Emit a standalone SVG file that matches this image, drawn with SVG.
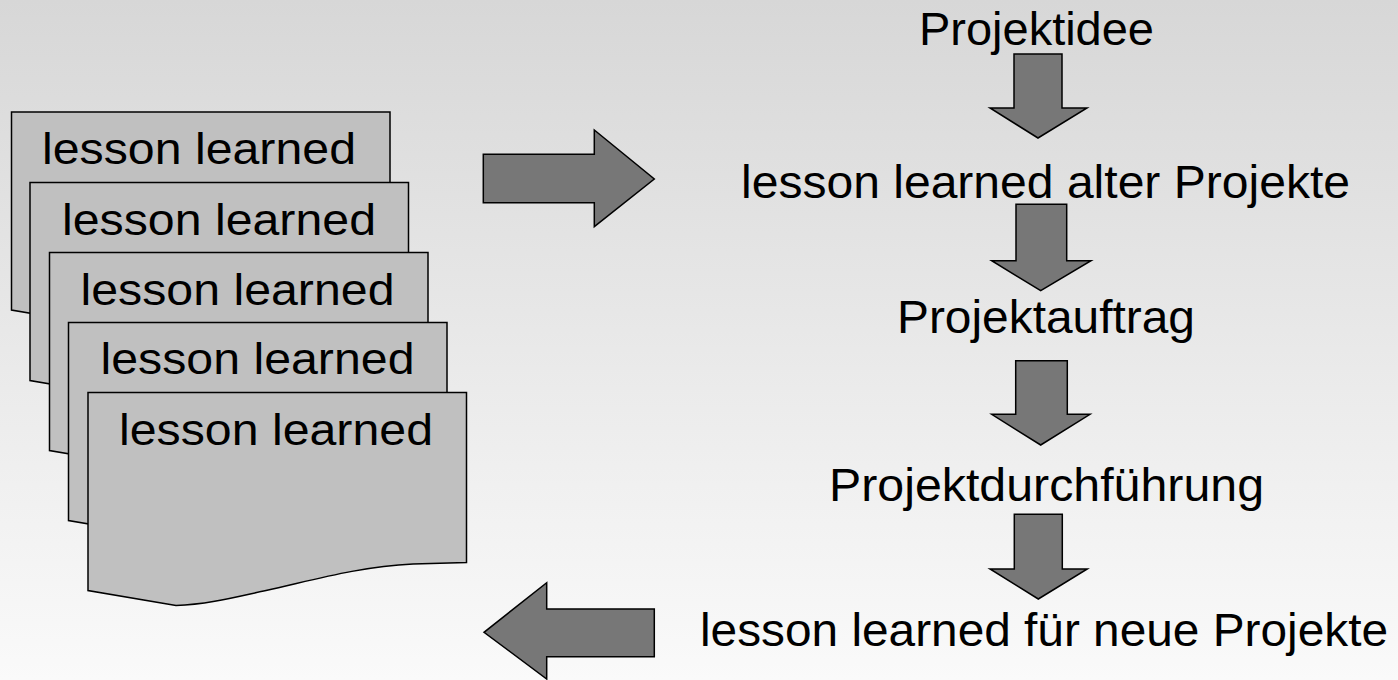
<svg xmlns="http://www.w3.org/2000/svg" xmlns:xlink="http://www.w3.org/1999/xlink" width="1398" height="680" viewBox="0 0 1398 680">
<defs>
<linearGradient id="bg" x1="0" y1="0" x2="0" y2="1">
<stop offset="0" stop-color="#d7d7d7"/>
<stop offset="1" stop-color="#fafafa"/>
</linearGradient>
<path id="page" d="M0,0 H378.5 V170 L325,171.5 C270,174 220,189 178,198 C150,204 120,212 88,213 L0,198 Z"/>
</defs>
<style>
.pg{fill:#c0c0c0;stroke:#000;stroke-width:1.5}
.ar{fill:#777777;stroke:#000;stroke-width:1.5;stroke-linejoin:miter}
text{font-family:"Liberation Sans",Arial,sans-serif;fill:#000}
.lt{font-size:44px}
.rt{font-size:46px}
</style>
<rect width="1398" height="680" fill="url(#bg)"/>
<g id="page1"><use xlink:href="#page" class="pg" transform="translate(11.5,112)"/><text class="lt" x="42" y="163.5" textLength="314" lengthAdjust="spacingAndGlyphs">lesson learned</text></g>
<g id="page2"><use xlink:href="#page" class="pg" transform="translate(30,182.5)"/><text class="lt" x="62" y="235" textLength="314" lengthAdjust="spacingAndGlyphs">lesson learned</text></g>
<g id="page3"><use xlink:href="#page" class="pg" transform="translate(49.5,252.5)"/><text class="lt" x="80.5" y="305" textLength="314" lengthAdjust="spacingAndGlyphs">lesson learned</text></g>
<g id="page4"><use xlink:href="#page" class="pg" transform="translate(68.5,322.5)"/><text class="lt" x="100.5" y="374" textLength="314" lengthAdjust="spacingAndGlyphs">lesson learned</text></g>
<g id="page5"><use xlink:href="#page" class="pg" transform="translate(88,392.5)"/><text class="lt" x="119" y="445" textLength="314" lengthAdjust="spacingAndGlyphs">lesson learned</text></g>
<g id="n1"><text class="rt" x="919" y="45" textLength="235" lengthAdjust="spacingAndGlyphs">Projektidee</text></g>
<g id="n2"><text class="rt" x="741" y="198" textLength="609" lengthAdjust="spacingAndGlyphs">lesson learned alter Projekte</text></g>
<g id="n3"><text class="rt" x="897" y="333" textLength="298" lengthAdjust="spacingAndGlyphs">Projektauftrag</text></g>
<g id="n4"><text class="rt" x="829" y="501" textLength="435" lengthAdjust="spacingAndGlyphs">Projektdurchführung</text></g>
<g id="n5"><text class="rt" x="700" y="646" textLength="688" lengthAdjust="spacingAndGlyphs">lesson learned für neue Projekte</text></g>
<g id="connectors">
<polygon class="ar" points="483.3,154.3 594.3,154.3 594.3,130 654.3,179 594.3,226.7 594.3,202.7 483.3,202.7"/>
<polygon class="ar" points="654.3,609 546.7,609 546.7,582.7 484,632.3 546.7,679 546.7,656.7 654.3,656.7"/>
<polygon class="ar" points="1014,54 1062,54 1062,108 1087,108 1038,138 990,108 1014,108"/>
<polygon class="ar" points="1016,204.3 1066.7,204.3 1066.7,260.7 1091,260.7 1040.7,290.7 991.7,260.7 1016,260.7"/>
<polygon class="ar" points="1015.7,360.7 1067.3,360.7 1067.3,414.3 1090,414.3 1040.7,445 991.7,414.3 1015.7,414.3"/>
<polygon class="ar" points="1014.3,514.3 1062.3,514.3 1062.3,569 1087.3,569 1038.3,599 990,569 1014.3,569"/>
</g>
</svg>
